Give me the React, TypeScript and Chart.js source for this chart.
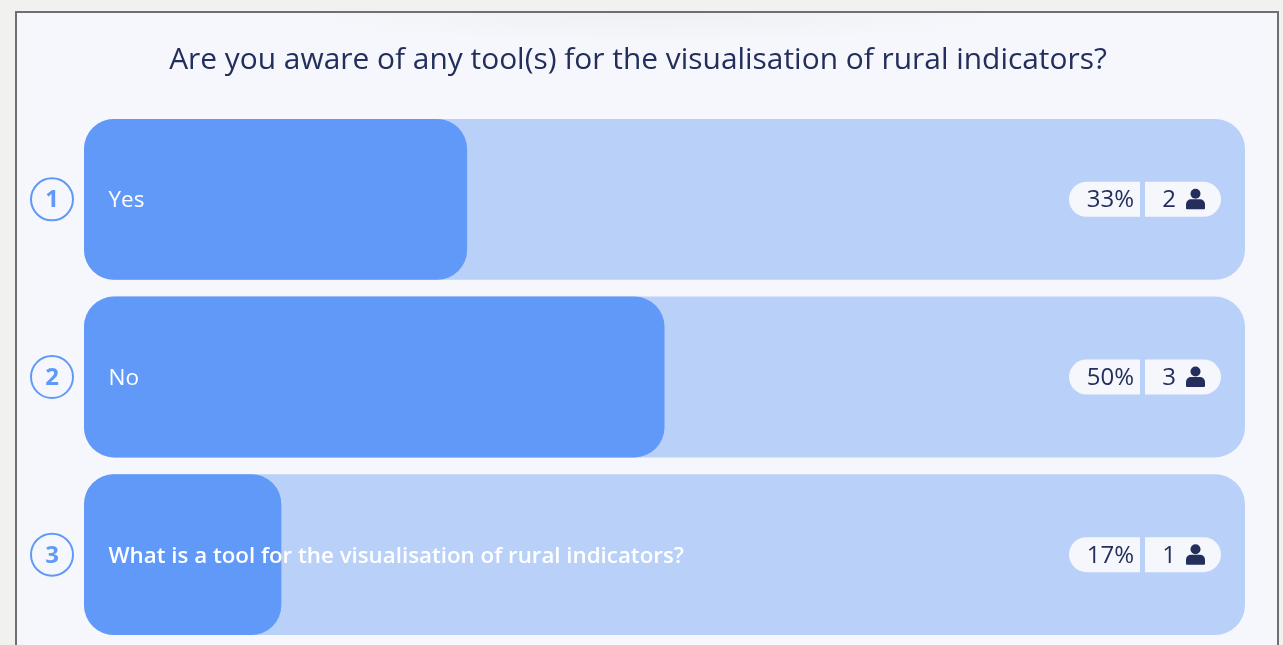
import React, { useEffect, useRef } from "react";
import { Chart, registerables } from "chart.js";

Chart.register(...registerables);

const questionTitle = "Are you aware of any tool(s) for the visualisation of rural indicators?";
const categories = ["Yes", "No", "What is a tool for the visualisation of rural indicators?"];
const percentValues = [33, 50, 17];
const respondentCounts = [2, 3, 1];
const trackValues = [100, 100, 100];

const FONT = "'Open Sans', 'Noto Sans', sans-serif";
const INK = "#232e5c";
const FILL = "#6099f7";
const TRACK = "#b9d1f9";
const PAPER = "#f5f7fc";

const overlay = {
  id: "pollOverlay",
  afterDatasetsDraw(chart: any) {
    const { ctx } = chart;
    const y = chart.scales.y;
    ctx.save();
    ctx.textBaseline = "middle";

    ctx.fillStyle = INK;
    ctx.font = `29.9px ${FONT}`;
    ctx.textAlign = "center";
    ctx.fillText(questionTitle, 638, 60);

    categories.forEach((label: string, i: number) => {
      const cy = y.getPixelForValue(i);

      ctx.beginPath();
      ctx.arc(52, cy, 21, 0, Math.PI * 2);
      ctx.strokeStyle = FILL;
      ctx.lineWidth = 2;
      ctx.stroke();
      ctx.fillStyle = FILL;
      ctx.font = `bold 24px ${FONT}`;
      ctx.textAlign = "center";
      ctx.fillText(String(i + 1), 52, cy + 1);

      ctx.fillStyle = "#ffffff";
      ctx.font = i === 2 ? `600 22.3px ${FONT}` : `22.5px ${FONT}`;
      ctx.textAlign = "left";
      ctx.fillText(label, 108.5, cy + 1.5);

      ctx.fillStyle = PAPER;
      ctx.beginPath();
      ctx.roundRect(1069, cy - 17.5, 71, 35, [17.5, 0, 0, 17.5]);
      ctx.fill();
      ctx.beginPath();
      ctx.roundRect(1145, cy - 17.5, 76, 35, [0, 17.5, 17.5, 0]);
      ctx.fill();

      ctx.fillStyle = INK;
      ctx.font = `24px ${FONT}`;
      ctx.textAlign = "right";
      ctx.fillText(`${percentValues[i]}%`, 1134, cy + 1);
      ctx.textAlign = "center";
      ctx.fillText(String(respondentCounts[i]), 1169, cy + 1);

      ctx.beginPath();
      ctx.arc(1195.5, cy - 5.5, 5, 0, Math.PI * 2);
      ctx.fill();
      ctx.beginPath();
      ctx.roundRect(1186, cy, 19, 10, [5, 5, 1, 1]);
      ctx.fill();
    });
    ctx.restore();
  },
};

export default function App() {
  const ref = useRef<HTMLCanvasElement>(null);
  useEffect(() => {
    const chart = new Chart(ref.current as HTMLCanvasElement, {
      type: "bar",
      data: {
        labels: categories,
        datasets: [
          {
            label: "Share of respondents",
            data: percentValues,
            backgroundColor: FILL,
            borderRadius: 30,
            borderSkipped: false,
            order: 1,
            grouped: false,
            barPercentage: 1,
            categoryPercentage: 0.905,
          } as any,
          {
            label: "Track",
            data: trackValues,
            backgroundColor: TRACK,
            borderRadius: 30,
            borderSkipped: false,
            order: 2,
            grouped: false,
            barPercentage: 1,
            categoryPercentage: 0.905,
          } as any,
        ],
      },
      options: {
        indexAxis: "y",
        animation: false,
        responsive: false,
        layout: { padding: { left: 84, right: 38, top: 110.5, bottom: 1.5 } },
        scales: {
          x: { display: false, min: 0, max: 100 },
          y: { display: false },
        },
        plugins: { legend: { display: false }, tooltip: { enabled: false }, title: { display: false } },
      },
      plugins: [overlay],
    });
    return () => chart.destroy();
  }, []);

  return (
    <div style={{ position: "fixed", left: 0, top: 0, width: 1283, height: 645, overflow: "hidden", background: "#f1f1f0" }}>
      <div
        style={{
          position: "absolute",
          left: 15,
          top: 11,
          width: 1264,
          height: 640,
          boxSizing: "border-box",
          border: "2px solid #6f6f6f",
          background: "radial-gradient(ellipse 360px 30px at 640px 0px, #eef0f3, #f5f7fc)",
        }}
      />
      <canvas ref={ref} width={1283} height={645} style={{ position: "absolute", left: 0, top: 0, display: "block", filter: "blur(0.6px)" }} />
    </div>
  );
}
